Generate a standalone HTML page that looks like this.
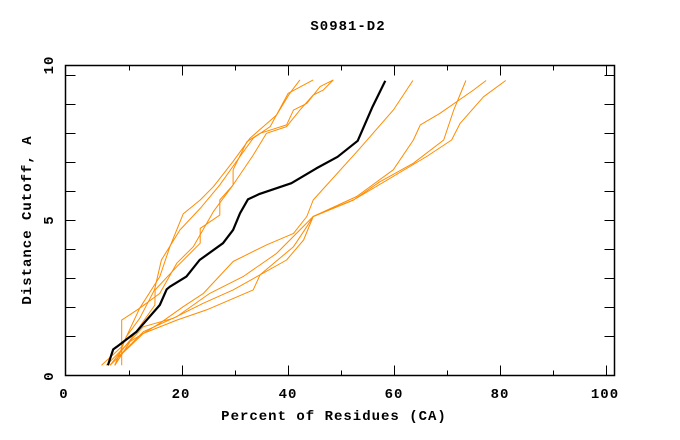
<!DOCTYPE html>
<html><head><meta charset="utf-8"><style>
html,body{margin:0;padding:0;background:#fff;}
svg{display:block;}
text{font-family:"Liberation Mono",monospace;font-weight:bold;font-size:14px;letter-spacing:1px;fill:#000;}
</style></head><body>
<svg id="chart" width="680" height="440" viewBox="0 0 680 440">
<text x="348" y="30" text-anchor="middle">S0981-D2</text>
<text x="334" y="420" text-anchor="middle">Percent of Residues (CA)</text>
<text transform="translate(31,220) rotate(-90)" text-anchor="middle">Distance Cutoff, A</text>
<g id="ticks"></g>
<g id="series"></g>
<rect x="65.5" y="65.5" width="549" height="310" fill="none" stroke="#000" stroke-width="1.5"/>
</svg>
<script>
const xTicks=[10,20,30,40,50,60,70,80,90,100];
const yTicks=[1,2,3,4,5,6,7,8,9,10];
const xLabels=[{t:"0",x:64},{t:"20",x:181},{t:"40",x:288},{t:"60",x:394},{t:"80",x:500},{t:"100",x:605}];
const yLabels=[{t:"0",y:376},{t:"5",y:220},{t:"10",y:65}];
const blackX=[6.1,7.1,7.8,11.5,15.9,17.2,17.8,20.9,23.4,27.8,29.7,31.0,32.5,34.7,40.7,45.4,49.4,53.2,56.0,58.4];
const blackY=[0.0,0.55,0.64,1.16,2.08,2.62,2.71,3.06,3.63,4.21,4.67,5.24,5.72,5.91,6.28,6.79,7.19,7.74,8.92,9.81];
const u1X=[4.9,8.7,12.1,15.9,17.8,20.3,23.5,26.0,29.7,32.9,35.4,37.9,40.4,42.3];
const u1Y=[0.0,0.64,1.97,3.06,4.09,5.22,5.70,6.16,7.03,7.83,8.23,8.63,9.38,9.84];
const u2X=[7.4,9.6,12.1,14.9,16.2,19.7,23.5,27.2,31.0,33.5,36.7,40.1,44.8];
const u2Y=[0.0,0.99,1.62,2.60,3.63,4.67,5.41,6.22,7.20,7.83,8.23,9.38,9.84];
const u3X=[6.5,10.3,14.97,15.0,19.1,23.5,23.5,27.2,27.2,29.7,29.7,32.3,34.8,39.8,41.1,43.6,46.1,48.6];
const u3Y=[0.0,0.87,2.08,2.60,3.40,4.21,4.72,5.18,5.70,6.22,6.74,7.71,8.00,8.29,8.80,9.03,9.61,9.84];
const u4X=[8.7,8.7,12.1,15.9,19.1,22.2,26.0,29.7,33.5,36.0,39.8,42.3,44.8,46.7,48.6];
const u4Y=[0.0,1.56,1.97,2.48,3.52,4.09,5.30,6.22,7.25,8.00,8.23,8.80,9.32,9.49,9.84];
const l1X=[7.4,10.3,15.9,20.3,24.1,29.7,36.0,41.1,43.6,44.8,53.6,59.9,63.6];
const l1Y=[0.0,0.82,1.45,2.02,2.48,3.58,4.15,4.55,5.13,5.70,7.48,8.80,9.82];
const l2X=[5.8,8.7,12.8,18.4,24.1,29.7,34.8,41.1,43.6,44.8,52.4,57.4,63.7,69.4,71.3,73.6];
const l2Y=[0.0,0.53,1.33,1.62,2.14,2.60,3.12,4.09,4.78,5.13,5.70,6.33,6.97,7.77,8.80,9.82];
const l3X=[7.4,8.1,12.8,19.1,25.3,31.6,37.9,44.8,53.0,59.9,63.7,65.0,68.7,75.0,77.4];
const l3Y=[0.0,0.3,1.16,1.68,2.48,3.06,3.86,5.13,5.82,6.74,7.77,8.29,8.69,9.49,9.82];
const l4X=[6.5,12.8,19.1,24.7,33.5,34.8,39.8,43.0,44.8,52.4,66.2,70.9,72.5,76.9,81.1];
const l4Y=[0.0,1.10,1.56,1.91,2.60,3.12,3.63,4.32,5.13,5.70,7.20,7.77,8.34,9.26,9.82];

const NS="http://www.w3.org/2000/svg";
function xs(v){return 75.5+5.305*v;}
function ys(v){return 365.3-29*v;}
const tg=document.getElementById('ticks');
const sg=document.getElementById('series');
function mk(tag,attrs,parent){const e=document.createElementNS(NS,tag);for(const k in attrs)e.setAttribute(k,attrs[k]);parent.appendChild(e);return e;}
xTicks.forEach(v=>{
  const big=v%20===0;const L=big?10:5;const x=Math.round(xs(v))+0.5;
  let t=mk('line',{x1:x,x2:x,y1:375.5,y2:375.5-L,stroke:'#000','stroke-width':1},tg);
  
  
  t=mk('line',{x1:x,x2:x,y1:65.5,y2:65.5+L,stroke:'#000','stroke-width':1},tg);
  
  
});
yTicks.forEach(v=>{
  const y=Math.round(ys(v))+0.5;
  let t=mk('line',{x1:65.5,x2:75.5,y1:y,y2:y,stroke:'#000','stroke-width':1},tg);
  
  
  t=mk('line',{x1:614.5,x2:604.5,y1:y,y2:y,stroke:'#000','stroke-width':1},tg);
  
  
});
xLabels.forEach(o=>{
  const t=mk('text',{x:o.x,y:398,'text-anchor':'middle'},tg);t.textContent=o.t;
  
  
});
yLabels.forEach(o=>{
  const t=mk('text',{transform:'translate(53,'+o.y+') rotate(-90)','text-anchor':'middle'},tg);t.textContent=o.t;
  
  
});
function draw(X,Y,color,w,name){
  const pts=X.map((v,i)=>xs(v).toFixed(1)+','+ys(Y[i]).toFixed(1)).join(' ');
  const p=mk('polyline',{points:pts,fill:'none',stroke:color,'stroke-width':w,'stroke-linejoin':'round'},sg);
  
  
}
const OR='#ff8c00';
draw(u1X,u1Y,OR,1,'model-line-1');
draw(u2X,u2Y,OR,1,'model-line-2');
draw(u3X,u3Y,OR,1,'model-line-3');
draw(u4X,u4Y,OR,1,'model-line-4');
draw(l1X,l1Y,OR,1,'model-line-5');
draw(l2X,l2Y,OR,1,'model-line-6');
draw(l3X,l3Y,OR,1,'model-line-7');
draw(l4X,l4Y,OR,1,'model-line-8');
draw(blackX,blackY,'#000',2.2,'reference-line');
</script>
</body></html>
